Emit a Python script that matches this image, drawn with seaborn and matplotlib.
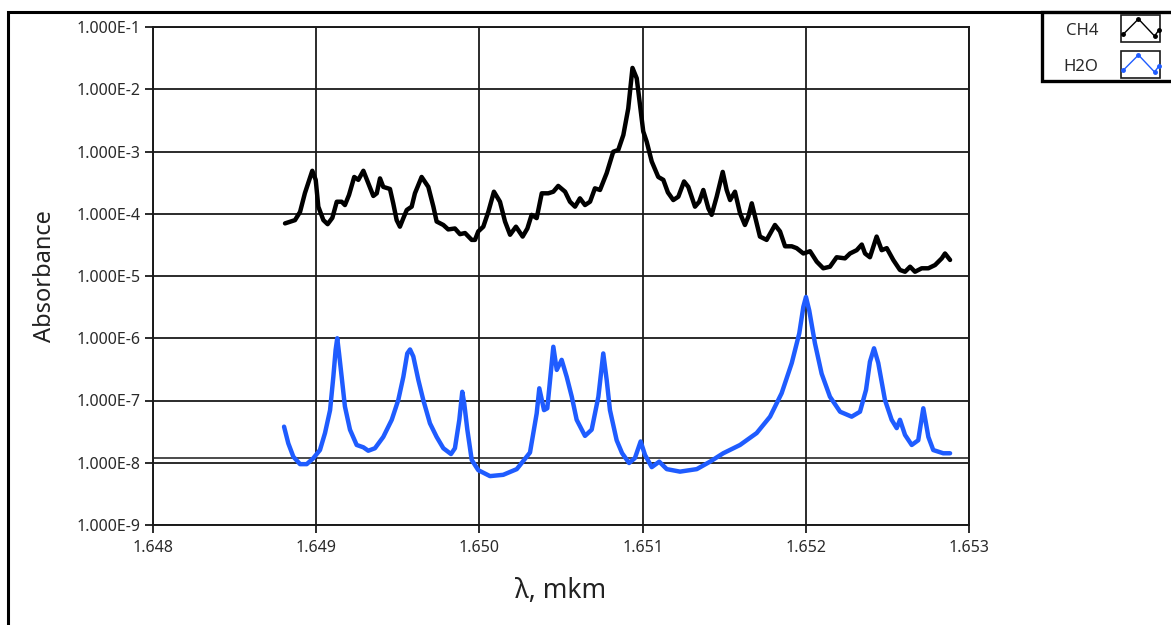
import numpy as np
import pandas as pd
import matplotlib
matplotlib.use("Agg")
import matplotlib.pyplot as plt
import seaborn as sns
from matplotlib.legend_handler import HandlerBase
from matplotlib.lines import Line2D
from matplotlib.patches import Rectangle
from matplotlib.ticker import FuncFormatter, FixedLocator

# CH4 absorbance spectrum
ch4_wl = [1.648809, 1.648870, 1.648901, 1.648931, 1.648976, 1.648997, 1.649013, 1.649044,
          1.649070, 1.649099, 1.649126, 1.649156, 1.649176, 1.649201, 1.649233, 1.649258,
          1.649289, 1.649319, 1.649350, 1.649371, 1.649391, 1.649411, 1.649452, 1.649472,
          1.649493, 1.649513, 1.649534, 1.649555, 1.649585, 1.649605, 1.649646, 1.649687,
          1.649718, 1.649738, 1.649779, 1.649809, 1.649850, 1.649881, 1.649912, 1.649953,
          1.649973, 1.649993, 1.650024, 1.650055, 1.650089, 1.650126, 1.650157, 1.650188,
          1.650224, 1.650265, 1.650294, 1.650320, 1.650351, 1.650382, 1.650422, 1.650453,
          1.650483, 1.650525, 1.650555, 1.650586, 1.650616, 1.650647, 1.650678, 1.650708,
          1.650739, 1.650780, 1.650820, 1.650851, 1.650882, 1.650912, 1.650938, 1.650964,
          1.650984, 1.651004, 1.651025, 1.651056, 1.651096, 1.651127, 1.651155, 1.651188,
          1.651219, 1.651254, 1.651280, 1.651321, 1.651347, 1.651372, 1.651403, 1.651423,
          1.651454, 1.651491, 1.651515, 1.651536, 1.651566, 1.651597, 1.651627, 1.651648,
          1.651669, 1.651689, 1.651719, 1.651760, 1.651811, 1.651842, 1.651873, 1.651914,
          1.651944, 1.651985, 1.652026, 1.652067, 1.652107, 1.652148, 1.652189, 1.652240,
          1.652271, 1.652312, 1.652343, 1.652363, 1.652393, 1.652434, 1.652465, 1.652496,
          1.652536, 1.652577, 1.652608, 1.652639, 1.652669, 1.652710, 1.652751, 1.652792,
          1.652833, 1.652853, 1.652884]
ch4_abs = [7.0e-5, 7.9e-5, 1.07e-4, 2.15e-4, 4.9e-4, 3.5e-4, 1.30e-4, 7.9e-5,
           6.8e-5, 8.6e-5, 1.56e-4, 1.56e-4, 1.38e-4, 2.0e-4, 3.9e-4, 3.5e-4,
           4.9e-4, 3.1e-4, 1.93e-4, 2.13e-4, 3.7e-4, 2.7e-4, 2.5e-4, 1.47e-4,
           7.9e-5, 6.2e-5, 8.5e-5, 1.15e-4, 1.30e-4, 2.13e-4, 3.9e-4, 2.7e-4,
           1.30e-4, 7.5e-5, 6.6e-5, 5.6e-5, 5.8e-5, 4.7e-5, 4.9e-5, 3.8e-5,
           3.8e-5, 5.2e-5, 6.2e-5, 1.08e-4, 2.26e-4, 1.56e-4, 7.5e-5, 4.6e-5,
           6.2e-5, 4.3e-5, 5.8e-5, 9.6e-5, 8.5e-5, 2.13e-4, 2.13e-4, 2.26e-4,
           2.8e-4, 2.26e-4, 1.56e-4, 1.30e-4, 1.77e-4, 1.38e-4, 1.56e-4, 2.56e-4,
           2.41e-4, 4.5e-4, 9.9e-4, 1.06e-3, 1.84e-3, 4.9e-3, 2.2e-2, 1.5e-2,
           5.6e-3, 2.1e-3, 1.44e-3, 6.9e-4, 3.9e-4, 3.5e-4, 2.2e-4, 1.66e-4,
           1.88e-4, 3.3e-4, 2.7e-4, 1.30e-4, 1.56e-4, 2.41e-4, 1.22e-4, 9.6e-5,
           1.88e-4, 4.7e-4, 2.41e-4, 1.66e-4, 2.26e-4, 1.02e-4, 6.6e-5, 9.0e-5,
           1.47e-4, 9.0e-5, 4.3e-5, 3.8e-5, 6.6e-5, 5.2e-5, 3.0e-5, 3.0e-5,
           2.8e-5, 2.3e-5, 2.5e-5, 1.70e-5, 1.33e-5, 1.41e-5, 2.0e-5, 1.92e-5,
           2.3e-5, 2.6e-5, 3.2e-5, 2.3e-5, 2.0e-5, 4.3e-5, 2.6e-5, 2.8e-5,
           1.81e-5, 1.25e-5, 1.17e-5, 1.41e-5, 1.17e-5, 1.33e-5, 1.33e-5, 1.50e-5,
           1.92e-5, 2.3e-5, 1.81e-5]

# H2O absorbance spectrum
h2o_wl = [1.648803, 1.648829, 1.648860, 1.648901, 1.648942, 1.648982, 1.649023, 1.649054,
          1.649085, 1.649105, 1.649119, 1.649129, 1.649140, 1.649156, 1.649176, 1.649207,
          1.649248, 1.649289, 1.649319, 1.649360, 1.649411, 1.649463, 1.649503, 1.649534,
          1.649558, 1.649575, 1.649595, 1.649626, 1.649656, 1.649697, 1.649738, 1.649779,
          1.649826, 1.649850, 1.649877, 1.649895, 1.649907, 1.649926, 1.649953, 1.649993,
          1.650065, 1.650146, 1.650229, 1.650310, 1.650351, 1.650367, 1.650396, 1.650416,
          1.650433, 1.650453, 1.650474, 1.650504, 1.650535, 1.650566, 1.650596, 1.650647,
          1.650688, 1.650729, 1.650759, 1.650780, 1.650800, 1.650841, 1.650874, 1.650917,
          1.650953, 1.650988, 1.651015, 1.651056, 1.651102, 1.651148, 1.651229, 1.651332,
          1.651413, 1.651494, 1.651597, 1.651699, 1.651781, 1.651852, 1.651914, 1.651960,
          1.651985, 1.652001, 1.652021, 1.652056, 1.652097, 1.652148, 1.652210, 1.652281,
          1.652332, 1.652369, 1.652393, 1.652418, 1.652444, 1.652485, 1.652526, 1.652557,
          1.652577, 1.652608, 1.652649, 1.652689, 1.652720, 1.652751, 1.652781, 1.652842,
          1.652884]
h2o_abs = [3.8e-8, 2.05e-8, 1.25e-8, 9.5e-9, 9.5e-9, 1.18e-8, 1.60e-8, 3.0e-8,
           7.0e-8, 2.4e-7, 6.5e-7, 1.0e-6, 5.7e-7, 2.4e-7, 8.0e-8, 3.4e-8,
           1.93e-8, 1.77e-8, 1.56e-8, 1.71e-8, 2.6e-8, 4.9e-8, 1.02e-7, 2.4e-7,
           5.7e-7, 6.6e-7, 5.1e-7, 2.13e-7, 1.02e-7, 4.3e-8, 2.6e-8, 1.71e-8,
           1.38e-8, 1.71e-8, 4.9e-8, 1.38e-7, 9.0e-8, 3.4e-8, 1.11e-8, 7.6e-9,
           6.1e-9, 6.4e-9, 7.9e-9, 1.46e-8, 6.2e-8, 1.57e-7, 7.0e-8, 7.5e-8,
           2.13e-7, 7.3e-7, 3.1e-7, 4.5e-7, 2.4e-7, 1.15e-7, 4.9e-8, 2.7e-8,
           3.4e-8, 1.15e-7, 5.7e-7, 2.13e-7, 7.0e-8, 2.3e-8, 1.43e-8, 9.9e-9,
           1.19e-8, 2.2e-8, 1.33e-8, 8.5e-9, 1.04e-8, 7.9e-9, 7.2e-9, 7.9e-9,
           1.04e-8, 1.42e-8, 1.93e-8, 3.0e-8, 5.5e-8, 1.31e-7, 4.0e-7, 1.20e-6,
           3.2e-6, 4.6e-6, 2.8e-6, 8.3e-7, 2.7e-7, 1.15e-7, 6.6e-8, 5.5e-8,
           6.6e-8, 1.48e-7, 4.2e-7, 6.9e-7, 4.0e-7, 1.02e-7, 4.9e-8, 3.6e-8,
           4.9e-8, 2.8e-8, 1.93e-8, 2.3e-8, 7.5e-8, 2.6e-8, 1.60e-8, 1.42e-8,
           1.42e-8]

series_names = ["CH4", "H2O"]
series_colors = ["#000000", "#1f5cff"]
cursor_level = 1.2e-8
y_decades = [1e-9, 1e-8, 1e-7, 1e-6, 1e-5, 1e-4, 1e-3, 1e-2, 1e-1]
x_ticks = [1.648, 1.649, 1.650, 1.651, 1.652, 1.653]

df = pd.concat([
    pd.DataFrame({"wl": ch4_wl, "abs": ch4_abs, "gas": "CH4"}),
    pd.DataFrame({"wl": h2o_wl, "abs": h2o_abs, "gas": "H2O"}),
])

sns.set_style("white")
plt.rcParams["font.family"] = ["Noto Sans", "DejaVu Sans"]

fig = plt.figure(figsize=(11.71, 6.25), dpi=100)
ax = fig.add_axes([153 / 1171, 1 - 525 / 625, 816 / 1171, 498 / 625])

ax.set_yscale("log")
ax.set_xlim(x_ticks[0], x_ticks[-1])
ax.set_ylim(y_decades[0], y_decades[-1])

# grid drawn under the curves
ax.yaxis.set_major_locator(FixedLocator(y_decades))
ax.yaxis.set_minor_locator(FixedLocator([]))
ax.xaxis.set_major_locator(FixedLocator(x_ticks))
ax.grid(True, which="major", color="#1a1a1a", linewidth=1.3)
ax.set_axisbelow(True)
ax.axhline(cursor_level, color="#1a1a1a", linewidth=1.1, zorder=1)

sns.lineplot(data=df, x="wl", y="abs", hue="gas", hue_order=series_names,
             palette=dict(zip(series_names, series_colors)), sort=False,
             estimator=None, linewidth=3.2, legend=False, ax=ax, zorder=3)

def sci_fmt(v, pos):
    m, e = f"{v:.3E}".split("E")
    return f"{m}E{int(e)}"

ax.yaxis.set_major_formatter(FuncFormatter(sci_fmt))
ax.xaxis.set_major_formatter(FuncFormatter(lambda v, p: f"{v:.3f}"))
ax.tick_params(axis="both", which="major", direction="out", length=6, width=1.3,
               color="#1a1a1a", labelsize=11.5, labelcolor="#2a2a2a", pad=3,
               left=True, bottom=True)
ax.tick_params(axis="x", pad=5)
for s in ax.spines.values():
    s.set_color("#1a1a1a")
    s.set_linewidth(1.4)

ax.set_xlabel("λ, mkm", fontsize=19, color="#222222")
ax.set_ylabel("Absorbance", fontsize=17, color="#222222")
ax.xaxis.set_label_coords(0.5, -0.105)
ax.yaxis.set_label_coords(-0.118, 0.5)

# outer panel frame (left and top edges visible)
fig.patches.append(Rectangle((8 / 1171, -0.2), 1.2, 1.2 - 12 / 625, fill=False,
                             edgecolor="black", linewidth=2.2,
                             transform=fig.transFigure, figure=fig))
# legend panel frame
fig.patches.append(Rectangle((1042 / 1171, 1 - 81 / 625), 0.2, 69 / 625, fill=True,
                             facecolor="white", edgecolor="black", linewidth=2.4,
                             transform=fig.transFigure, figure=fig, zorder=2))


class ZigHandler(HandlerBase):
    def create_artists(self, legend, orig_handle, xdescent, ydescent, width, height,
                       fontsize, trans):
        x0, y0 = -xdescent, -ydescent - 0.6 * height
        w, h = width, height * 2.35
        box = Rectangle((x0, y0), w, h, fill=False, edgecolor="#1a1a1a",
                        linewidth=1.2, transform=trans)
        fx = np.array([0.06, 0.45, 0.86, 0.98])
        fy = np.array([0.28, 0.84, 0.22, 0.45])
        line = Line2D(x0 + fx * w, y0 + fy * h, color=orig_handle.get_color(),
                      linewidth=1.0, marker="o", markersize=2.5, transform=trans)
        return [box, line]


handles = [Line2D([], [], color=c) for c in series_colors]
leg = fig.legend(handles, series_names, loc="upper right",
                 bbox_to_anchor=(1160 / 1171, 1 - 23 / 625), markerfirst=False,
                 handler_map={Line2D: ZigHandler()}, handlelength=2.35,
                 handletextpad=1.35, labelspacing=1.2, borderpad=0.0,
                 fontsize=12, frameon=False, borderaxespad=0)
leg.set_zorder(3)
for t in leg.get_texts():
    t.set_color("#2a2a2a")

fig.savefig("out.png", dpi=100)
